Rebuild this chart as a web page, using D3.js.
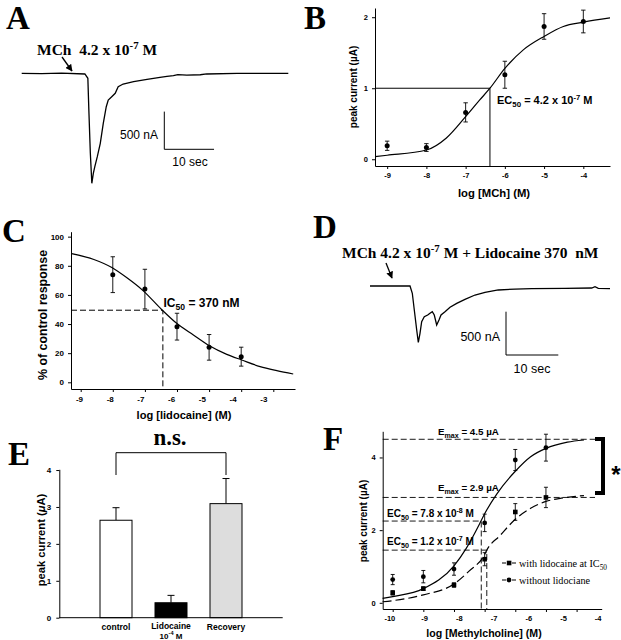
<!DOCTYPE html>
<html>
<head>
<meta charset="utf-8">
<script src="https://cdn.jsdelivr.net/npm/d3@7"></script>
<style>
body { margin: 0; background: #fff; }
svg text { fill: #000; white-space: pre; }
.axis path, .axis line { stroke: #000; stroke-width: 1; }
.axis text { font-family: "Liberation Sans", Arial, sans-serif; font-weight: bold; }
</style>
</head>
<body>
<svg id="fig" width="621" height="640"></svg>
<script>
// ---- data ----
// A: MCh 4.2e-7 M, current trace (time s, current nA)
var traceATime = [0, 4, 8, 12.7, 13.3, 13.5, 13.8, 14.1, 14.4, 14.7, 15.2, 15.8, 16.4, 17.0, 17.4, 18.1, 18.8, 19.4, 20.4, 22.5, 25.2, 27.8, 29.2, 30.5, 31.4, 33.2, 35.9, 37.2, 43.3, 53.6];
var traceACurrent = [0, -3, 2, -9, -66, -487, -1061, -1459, -1326, -1239, -1106, -928, -663, -443, -354, -310, -265, -178, -142, -111, -80, -53, -42, -32, -18, -23, -19, -9, 0, 0];
// D: MCh + lidocaine 370 nM
var traceDTime = [0, 7.65, 8.09, 8.47, 8.93, 9.24, 9.56, 9.88, 10.38, 11.03, 11.47, 11.91, 12.29, 12.75, 13.19, 13.58, 14.34, 15.30, 16.58, 18.16, 20.08, 21.99, 24.53, 27.72, 30.92, 37.28, 42.39, 43.02, 43.65, 45.89];
var traceDCurrent = [0, 0, -84, -277, -508, -652, -546, -412, -355, -335, -315, -297, -335, -450, -393, -335, -297, -246, -200, -154, -104, -73, -46, -35, -31, -27, -23, -8, -27, -31];

// B: MCh dose response
var doseB = [-9, -8, -7, -6, -5, -4];
var peakB = [0.19, 0.165, 0.66, 1.19, 1.87, 1.94];
var semB = [0.065, 0.055, 0.135, 0.19, 0.18, 0.16];
var fitBx = [-9.31, -9, -8, -7.49, -7, -6.64, -6.38, -6, -5.53, -5, -4.51, -4, -3.32];
var fitBy = [0.037, 0.056, 0.13, 0.30, 0.60, 0.835, 1.0, 1.28, 1.54, 1.73, 1.87, 1.93, 1.99];
var ec50B = -6.38, halfB = 1.0;
var ticksBx = [-9, -8, -7, -6, -5, -4], ticksBy = [0, 1, 2];

// C: lidocaine inhibition
var doseC = [-8, -7, -6, -5, -4];
var respC = [73.9, 64.0, 38.2, 24.0, 17.6];
var semC = [12.3, 13.6, 9.2, 8.8, 6.5];
var fitCx = [-9.28, -8.61, -8.03, -7.57, -7.05, -6.48, -6.01, -5.49, -4.99, -4.45, -3.98, -3.41, -2.89, -2.38];
var fitCy = [88.4, 84.5, 78.8, 71.9, 62.8, 50, 40.5, 32.5, 25.1, 19.2, 15.3, 10.8, 8.0, 5.7];
var ic50C = -6.44, halfC = 49.5;
var ticksCx = [-9, -8, -7, -6, -5, -4, -3], ticksCy = [0, 20, 40, 60, 80, 100];

// E: bars
var groupsE = ['control', 'Lidocaine', 'Recovery'];
var meanE = [2.64, 0.405, 3.09];
var errE = [0.34, 0.2, 0.68];
var ticksEy = [0, 1, 2, 3, 4];

// F: methylcholine with / without lidocaine
var doseF = [-10, -9, -8, -7, -6, -5];
var withoutF = [0.64, 0.72, 0.93, 2.2, 3.93, 4.27];
var withoutSem = [0.14, 0.17, 0.17, 0.24, 0.29, 0.37];
var withF = [0.275, 0.39, 0.49, 1.2, 2.5, 2.9];
var withSem = [0.06, 0.05, 0.06, 0.18, 0.23, 0.28];
var fitWithoutX = [-10.33, -10, -9, -8, -7.6, -7.12, -7, -6.6, -6, -5.5, -5, -4.3, -3.76];
var fitWithoutY = [0.12, 0.17, 0.39, 1.02, 1.5, 2.25, 2.45, 3.0, 3.62, 4.02, 4.25, 4.42, 4.48];
var fitWithX = [-10.33, -10, -9, -8, -7.5, -7, -6.93, -6.5, -6, -5.5, -5, -4.5, -3.76];
var fitWithY = [0.03, 0.06, 0.22, 0.52, 0.88, 1.33, 1.45, 1.85, 2.3, 2.6, 2.79, 2.88, 2.95];
var emaxF = [4.5, 2.9];
var ec50F = [-7.11, -6.93], halfF = [2.25, 1.45];
var ticksFx = [-10, -9, -8, -7, -6, -5, -4], ticksFy = [0, 2, 4];

var sans = '"Liberation Sans", Arial, sans-serif';
var serif = '"Liberation Serif", "Times New Roman", serif';
var svg = d3.select('#fig');

svg.append('defs').append('marker')
    .attr('id', 'arrow')
    .attr('viewBox', '0 0 10 10')
    .attr('refX', 9).attr('refY', 5)
    .attr('markerWidth', 7).attr('markerHeight', 7)
    .attr('markerUnits', 'userSpaceOnUse')
    .attr('orient', 'auto')
    .append('path').attr('d', 'M0,0L10,5L0,10z').attr('fill', '#000');

// text with sub / superscripts, parts = ['txt', ['x','sup'], ...]
function rich(x, y, parts, size, family, anchor, weight) {
    var t = svg.append('text').attr('x', x).attr('y', y)
        .attr('font-family', family).attr('font-weight', weight || 'bold')
        .attr('font-size', size).attr('text-anchor', anchor || 'start');
    var prev = 0;
    parts.forEach(function(p) {
        var s = typeof p === 'string' ? [p, null] : p;
        var dy = 0, fs = size;
        if (s[1] == 'sup') { dy = -size * 0.4; fs = size * 0.7; }
        if (s[1] == 'sub') { dy = size * 0.28; fs = size * 0.72; }
        if (s[1] == 'it') { t.append('tspan').attr('dy', -prev).attr('font-style', 'italic').text(s[0]); prev = 0; return; }
        t.append('tspan').attr('dy', dy - prev).attr('font-size', fs).text(s[0]);
        prev = dy;
    });
    return t;
}

function yTitle(x, y, parts, size) {
    rich(0, 0, parts, size, sans, 'middle').attr('transform', 'translate(' + x + ',' + y + ') rotate(-90)');
}

// panel letters
[['A', 6, 29], ['B', 304, 29], ['C', 2, 242], ['D', 313, 238], ['E', 8, 465], ['F', 323, 450]].forEach(function(l) {
    svg.append('text').attr('x', l[1]).attr('y', l[2])
        .attr('font-family', serif).attr('font-weight', 'bold').attr('font-size', 33).text(l[0]);
});

var line = d3.line().curve(d3.curveMonotoneX);

// ---------- A ----------
var xA = d3.scaleLinear().domain([0, 53.6]).range([21.7, 288.3]);
var yA = d3.scaleLinear().domain([0, -1500]).range([73.3, 73.3 + 1500 * 37.7 / 500]);
svg.append('path')
    .attr('d', d3.line().x(function(d) { return xA(d[0]); }).y(function(d) { return yA(d[1]); })(d3.zip(traceATime, traceACurrent)))
    .attr('fill', 'none').attr('stroke', '#000').attr('stroke-width', 1.3);
rich(37, 55, ['MCh  4.2 x 10', ['-7', 'sup'], ' M'], 15.5, serif);
svg.append('line').attr('x1', 62).attr('y1', 57).attr('x2', 72).attr('y2', 71)
    .attr('stroke', '#000').attr('stroke-width', 1.3).attr('marker-end', 'url(#arrow)');
// scale bar A
var sbA = [164.3, 149.3];
svg.append('path')
    .attr('d', 'M' + sbA[0] + ',' + (sbA[1] - (yA(-500) - yA(0))) + 'V' + sbA[1] + 'H' + (sbA[0] + xA(10) - xA(0)))
    .attr('fill', 'none').attr('stroke', '#000').attr('stroke-width', 1);
rich(158, 139, ['500 nA'], 12, sans, 'end', 'normal');
rich(190, 166, ['10 sec'], 12, sans, 'middle', 'normal');

// ---------- D ----------
var xD = d3.scaleLinear().domain([0, 45.89]).range([370, 610]);
var yD = d3.scaleLinear().domain([0, -500]).range([286, 286 + 43.3]);
svg.append('path')
    .attr('d', d3.line().x(function(d) { return xD(d[0]); }).y(function(d) { return yD(d[1]); })(d3.zip(traceDTime, traceDCurrent)))
    .attr('fill', 'none').attr('stroke', '#000').attr('stroke-width', 1.3);
rich(342, 258, ['MCh 4.2 x 10', ['-7', 'sup'], ' M + Lidocaine 370  nM'], 15.5, serif);
svg.append('line').attr('x1', 386).attr('y1', 263).attr('x2', 392).attr('y2', 278)
    .attr('stroke', '#000').attr('stroke-width', 1.3).attr('marker-end', 'url(#arrow)');
var sbD = [506, 355];
svg.append('path')
    .attr('d', 'M' + sbD[0] + ',' + (sbD[1] - (yD(-500) - yD(0))) + 'V' + sbD[1] + 'H' + (sbD[0] + xD(10) - xD(0)))
    .attr('fill', 'none').attr('stroke', '#000').attr('stroke-width', 1);
rich(500, 341, ['500 nA'], 12.5, sans, 'end', 'normal');
rich(532, 373, ['10 sec'], 12.5, sans, 'middle', 'normal');

function fmt(d) { return String(d); }

function errBars(xs, vals, errs, x, y, cap) {
    xs.forEach(function(d, i) {
        svg.append('path')
            .attr('d', 'M' + x(d) + ',' + y(vals[i] - errs[i]) + 'V' + y(vals[i] + errs[i]) +
                'M' + (x(d) - cap) + ',' + y(vals[i] + errs[i]) + 'h' + 2 * cap +
                'M' + (x(d) - cap) + ',' + y(vals[i] - errs[i]) + 'h' + 2 * cap)
            .attr('fill', 'none').attr('stroke', '#000').attr('stroke-width', 0.9);
    });
}

// ---------- B ----------
var xB = d3.scaleLinear().domain([-9.31, -3.32]).range([375, 610]);
var yB = d3.scaleLinear().domain([-0.095, 2.13]).range([166, 8]);
svg.append('g').attr('class', 'axis').attr('transform', 'translate(0,166)')
    .call(d3.axisBottom(xB).tickValues(ticksBx).tickFormat(fmt).tickSize(3).tickSizeOuter(0).tickPadding(4))
    .selectAll('text').attr('font-size', 7.5);
svg.append('g').attr('class', 'axis').attr('transform', 'translate(375,0)')
    .call(d3.axisLeft(yB).tickValues(ticksBy).tickFormat(fmt).tickSize(3).tickSizeOuter(0).tickPadding(4))
    .selectAll('text').attr('font-size', 7.5);
svg.append('path')
    .attr('d', 'M' + xB.range()[0] + ',' + yB(halfB) + 'H' + xB(ec50B) + 'V' + yB.range()[0])
    .attr('fill', 'none').attr('stroke', '#000').attr('stroke-width', 1);
svg.append('path').attr('d', line(d3.zip(fitBx.map(xB), fitBy.map(yB))))
    .attr('fill', 'none').attr('stroke', '#000').attr('stroke-width', 1.2);
errBars(doseB, peakB, semB, xB, yB, 2.2);
svg.selectAll('.ptB').data(doseB).enter().append('circle')
    .attr('cx', function(d) { return xB(d); })
    .attr('cy', function(d, i) { return yB(peakB[i]); })
    .attr('r', 2.5).attr('fill', '#000');
rich(497, 104, ['EC', ['50', 'sub'], ' = 4.2 x 10', ['-7', 'sup'], ' M'], 11, sans);
yTitle(357, 87, ['peak current (\u00b5A)'], 10);
rich(494, 197, ['log [MCh] (M)'], 11.3, sans, 'middle');

// ---------- C ----------
var xC = d3.scaleLinear().domain([-9.302, -2.324]).range([71, 295]);
var xClab = d3.scaleLinear().domain([-9, -3]).range([79, 263.3]);
var yC = d3.scaleLinear().domain([-4.6, 103.4]).range([389, 231.7]);
svg.append('g').attr('class', 'axis').attr('transform', 'translate(0,389)')
    .call(d3.axisBottom(xC).tickValues(ticksCx).tickFormat('').tickSize(3).tickSizeOuter(0));
var labC = svg.append('g').attr('class', 'axis').attr('transform', 'translate(0,389)')
    .call(d3.axisBottom(xClab).tickValues(ticksCx).tickFormat(fmt).tickSize(0).tickPadding(7));
labC.select('.domain').remove();
labC.selectAll('text').attr('font-size', 8);
svg.append('g').attr('class', 'axis').attr('transform', 'translate(71,0)')
    .call(d3.axisLeft(yC).tickValues(ticksCy).tickFormat(fmt).tickSize(3).tickSizeOuter(0).tickPadding(4))
    .selectAll('text').attr('font-size', 8);
svg.append('path')
    .attr('d', 'M' + xC.range()[0] + ',' + yC(halfC) + 'H' + xC(ic50C) + 'V' + yC.range()[0])
    .attr('fill', 'none').attr('stroke', '#000').attr('stroke-width', 1).attr('stroke-dasharray', '6,3');
svg.append('path').attr('d', line(d3.zip(fitCx.map(xC), fitCy.map(yC))))
    .attr('fill', 'none').attr('stroke', '#000').attr('stroke-width', 1.2);
errBars(doseC, respC, semC, xC, yC, 2.2);
svg.selectAll('.ptC').data(doseC).enter().append('circle')
    .attr('cx', function(d) { return xC(d); })
    .attr('cy', function(d, i) { return yC(respC[i]); })
    .attr('r', 2.5).attr('fill', '#000');
rich(163.5, 307, ['IC', ['50', 'sub'], ' = 370 nM'], 12, sans);
yTitle(47, 315, ['% of control response'], 12.4);
rich(184, 419, ['log [lidocaine] (M)'], 11.1, sans, 'middle');

// ---------- E ----------
var xE = d3.scalePoint().domain(groupsE).range([116, 226]);
var yE = d3.scaleLinear().domain([0, 4.02]).range([617.7, 469.3]);
var fillE = ['#fff', '#000', '#ddd'];
var bw = 32;
svg.append('g').attr('class', 'axis').attr('transform', 'translate(59.3,0)')
    .call(d3.axisLeft(yE).tickValues(ticksEy).tickFormat(fmt).tickSize(3).tickSizeOuter(0).tickPadding(5))
    .selectAll('text').attr('font-size', 8);
groupsE.forEach(function(g, i) {
    svg.append('path')
        .attr('d', 'M' + xE(g) + ',' + yE(meanE[i]) + 'V' + yE(meanE[i] + errE[i]) +
            'M' + (xE(g) - 3.5) + ',' + yE(meanE[i] + errE[i]) + 'h7')
        .attr('stroke', '#000').attr('stroke-width', 1);
});
svg.selectAll('.barE').data(groupsE).enter().append('rect')
    .attr('x', function(d) { return xE(d) - bw / 2; })
    .attr('y', function(d, i) { return yE(meanE[i]); })
    .attr('width', bw)
    .attr('height', function(d, i) { return yE(0) - yE(meanE[i]); })
    .attr('fill', function(d, i) { return fillE[i]; })
    .attr('stroke', '#000').attr('stroke-width', 1);
svg.append('line').attr('x1', 59.3).attr('x2', 282.7).attr('y1', yE(0)).attr('y2', yE(0))
    .attr('stroke', '#000').attr('stroke-width', 1);
rich(xE('control'), 630, ['control'], 8.5, sans, 'middle');
rich(xE('Lidocaine'), 629, ['Lidocaine'], 8.5, sans, 'middle');
rich(xE('Lidocaine'), 638.5, ['10', ['-4', 'sup'], ' M'], 8, sans, 'middle');
rich(xE('Recovery'), 630, ['Recovery'], 8.5, sans, 'middle');
// n.s. bracket
svg.append('path')
    .attr('d', 'M' + xE('control') + ',475V452.7H' + xE('Recovery') + 'V475')
    .attr('fill', 'none').attr('stroke', '#000').attr('stroke-width', 1);
rich(170, 445, ['n.s.'], 23, serif, 'middle');
yTitle(45, 540, ['peak current (', ['\u03bc', 'it'], 'A)'], 11.2);

// ---------- F ----------
var xF = d3.scaleLinear().domain([-10.326, -3.181]).range([382.7, 601.7]);
var xFlab = d3.scaleLinear().domain([-10, -4]).range([389.3, 597.7]);
var yF = d3.scaleLinear().domain([-0.17, 4.72]).range([609, 431.3]);
svg.append('g').attr('class', 'axis').attr('transform', 'translate(0,609)')
    .call(d3.axisBottom(xF).tickValues(ticksFx).tickFormat('').tickSize(3).tickSizeOuter(0));
var labF = svg.append('g').attr('class', 'axis').attr('transform', 'translate(0,609)')
    .call(d3.axisBottom(xFlab).tickValues(ticksFx).tickFormat(fmt).tickSize(0).tickPadding(7));
labF.select('.domain').remove();
labF.selectAll('text').attr('font-size', 7.5);
svg.append('g').attr('class', 'axis').attr('transform', 'translate(382.7,0)')
    .call(d3.axisLeft(yF).tickValues(ticksFy).tickFormat(fmt).tickSize(3).tickSizeOuter(0).tickPadding(4))
    .selectAll('text').attr('font-size', 7.5);
// dashed guide lines
emaxF.forEach(function(e) {
    svg.append('path').attr('d', 'M382.7,' + yF(e) + 'H595')
        .attr('stroke', '#000').attr('stroke-width', 0.9).attr('stroke-dasharray', '6,3');
});
ec50F.forEach(function(e, i) {
    svg.append('path').attr('d', 'M382.7,' + yF(halfF[i]) + 'H' + xF(e) + 'V609')
        .attr('fill', 'none').attr('stroke', '#000').attr('stroke-width', 0.9).attr('stroke-dasharray', '6,3');
});
svg.append('path').attr('d', line(d3.zip(fitWithoutX.map(xF), fitWithoutY.map(yF))))
    .attr('fill', 'none').attr('stroke', '#000').attr('stroke-width', 1.2);
svg.append('path').attr('d', line(d3.zip(fitWithX.map(xF), fitWithY.map(yF))))
    .attr('fill', 'none').attr('stroke', '#000').attr('stroke-width', 1.2).attr('stroke-dasharray', '9,4');
errBars(doseF, withoutF, withoutSem, xF, yF, 2);
errBars(doseF, withF, withSem, xF, yF, 2);
svg.selectAll('.ptFo').data(doseF).enter().append('circle')
    .attr('cx', function(d) { return xF(d); })
    .attr('cy', function(d, i) { return yF(withoutF[i]); })
    .attr('r', 2.4).attr('fill', '#000');
svg.selectAll('.ptFw').data(doseF).enter().append('rect')
    .attr('x', function(d) { return xF(d) - 2.3; })
    .attr('y', function(d, i) { return yF(withF[i]) - 2.3; })
    .attr('width', 4.6).attr('height', 4.6).attr('fill', '#000');
rich(438, 435, ['E', ['max', 'sub'], ' = 4.5 \u00b5A'], 9.8, sans);
rich(438, 491, ['E', ['max', 'sub'], ' = 2.9 \u00b5A'], 9.8, sans);
rich(387, 517, ['EC', ['50', 'sub'], ' = 7.8 x 10', ['-8', 'sup'], ' M'], 10, sans);
rich(387, 545, ['EC', ['50', 'sub'], ' = 1.2 x 10', ['-7', 'sup'], ' M'], 10, sans);
// significance bracket
svg.append('path').attr('d', 'M595,439H603V493H595')
    .attr('fill', 'none').attr('stroke', '#000').attr('stroke-width', 4);
rich(616, 483, ['*'], 24, sans, 'middle');
// legend
var legF = [['with lidocaine at IC', 'sq'], ['without lidociane', 'ci']];
legF.forEach(function(l, i) {
    var ly = 563 + i * 17;
    svg.append('path').attr('d', 'M502,' + ly + 'h4M512,' + ly + 'h4').attr('stroke', '#000').attr('stroke-width', 1.2);
    if (l[1] == 'sq') svg.append('rect').attr('x', 506.8).attr('y', ly - 2.3).attr('width', 4.6).attr('height', 4.6);
    else svg.append('circle').attr('cx', 509).attr('cy', ly).attr('r', 2.4);
    rich(519, ly + 4, i == 0 ? [l[0], ['50', 'sub']] : [l[0]], 10.2, serif, 'start', 'normal');
});
yTitle(367, 521, ['peak current (\u00b5A)'], 10);
rich(484, 637, ['log [Methylcholine] (M)'], 10.6, sans, 'middle');
</script>
</body>
</html>
